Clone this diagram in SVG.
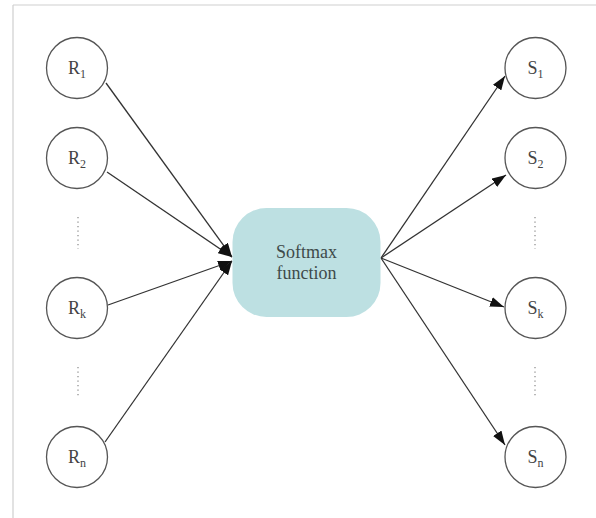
<svg xmlns="http://www.w3.org/2000/svg" width="596" height="518" viewBox="0 0 596 518">
<defs>
<marker id="ah" viewBox="0 0 14 10" refX="14" refY="5" markerWidth="14" markerHeight="10" markerUnits="userSpaceOnUse" orient="auto">
<path d="M0,0 L14,5 L0,10 Z" fill="#111"/>
</marker>
<style>
.node circle{fill:#fff;stroke:#555;stroke-width:1.3}
.lbl{font-family:"Liberation Serif","DejaVu Serif",serif;font-size:18px;fill:#444;text-anchor:middle}
.sub{font-size:12px}
.edge{stroke:#333;stroke-width:1.3;fill:none;marker-end:url(#ah)}
.dots{stroke:#888;stroke-width:1.2;stroke-dasharray:1.2,3.3}
.frame{stroke:#cfcfcf;stroke-width:1.2}
.ftxt{font-family:"Liberation Serif","DejaVu Serif",serif;font-size:18px;fill:#3d4a4a;text-anchor:middle}
</style>
</defs>
<rect width="596" height="518" fill="#fff"/>
<line class="frame" x1="13" y1="5" x2="596" y2="5"/>
<line class="frame" x1="13" y1="5" x2="13" y2="518"/>

<g id="connectors">
<line class="edge" x1="106" y1="83" x2="232" y2="257"/>
<line class="edge" x1="107" y1="172" x2="232" y2="257"/>
<line class="edge" x1="108" y1="305" x2="232" y2="261"/>
<line class="edge" x1="105" y1="442" x2="232" y2="261"/>
<line class="edge" x1="381" y1="258" x2="505" y2="76"/>
<line class="edge" x1="381" y1="258" x2="506" y2="175"/>
<line class="edge" x1="381" y1="258" x2="504" y2="307"/>
<line class="edge" x1="381" y1="258" x2="505" y2="445"/>
</g>

<g id="softmax">
<rect x="232.5" y="208" width="148" height="109" rx="34" ry="34" fill="#bde0e2"/>
<text class="ftxt" x="306.5" y="258">Softmax</text>
<text class="ftxt" x="306.5" y="279">function</text>
</g>

<g id="R1" class="node"><circle cx="77" cy="68" r="30.5"/><text class="lbl" x="77" y="74">R<tspan class="sub" dy="4">1</tspan></text></g>
<g id="R2" class="node"><circle cx="77" cy="158" r="30.5"/><text class="lbl" x="77" y="164">R<tspan class="sub" dy="4">2</tspan></text></g>
<g id="Rk" class="node"><circle cx="77" cy="308" r="30.5"/><text class="lbl" x="77" y="314">R<tspan class="sub" dy="4">k</tspan></text></g>
<g id="Rn" class="node"><circle cx="77" cy="457" r="30.5"/><text class="lbl" x="77" y="463">R<tspan class="sub" dy="4">n</tspan></text></g>

<g id="S1" class="node"><circle cx="535.5" cy="68" r="30.5"/><text class="lbl" x="535.5" y="74">S<tspan class="sub" dy="4">1</tspan></text></g>
<g id="S2" class="node"><circle cx="535.5" cy="158" r="30.5"/><text class="lbl" x="535.5" y="164">S<tspan class="sub" dy="4">2</tspan></text></g>
<g id="Sk" class="node"><circle cx="535.5" cy="308" r="30.5"/><text class="lbl" x="535.5" y="314">S<tspan class="sub" dy="4">k</tspan></text></g>
<g id="Sn" class="node"><circle cx="535.5" cy="457" r="30.5"/><text class="lbl" x="535.5" y="463">S<tspan class="sub" dy="4">n</tspan></text></g>

<line class="dots" x1="78" y1="217" x2="78" y2="249"/>
<line class="dots" x1="78" y1="367" x2="78" y2="398"/>
<line class="dots" x1="535" y1="217" x2="535" y2="249"/>
<line class="dots" x1="535" y1="367" x2="535" y2="398"/>
</svg>
